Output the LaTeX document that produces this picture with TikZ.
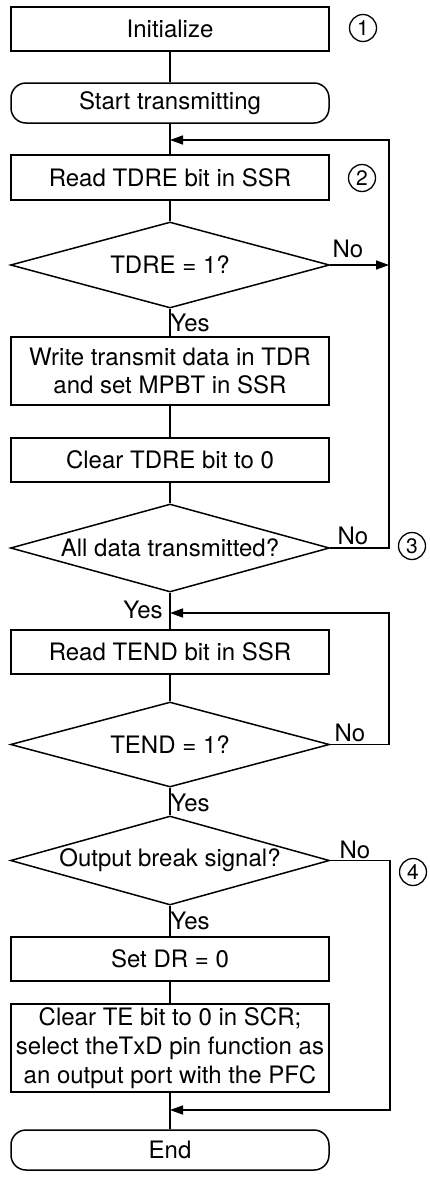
\documentclass[tikz,border=0pt]{standalone}
\usepackage{fontspec}
\setmainfont{TeX Gyre Heros}
\usetikzlibrary{shapes.geometric,arrows.meta}
\begin{document}
\begin{tikzpicture}[x=1pt,y=-1pt,
  every node/.style={font=\fontsize{24}{28.8}\selectfont, inner sep=0pt},
  proc/.style={draw, line width=1.5pt, minimum width=318pt, align=center},
  term/.style={proc, rounded corners=15pt},
  dec/.style={draw, diamond, line width=1.5pt, minimum width=319pt, aspect=3.6},
  circ/.style={draw, circle, line width=1.3pt, minimum size=27pt, font=\fontsize{21}{21}\selectfont},
  conn/.style={line width=1.5pt},
  arr/.style={conn, -{Triangle[length=13pt,width=9pt]}}
]
\fill[white] (0,0) rectangle (429,1178);
\useasboundingbox (0,0) rectangle (429,1178);

% main column
\node[proc, minimum height=44pt] (init) at (170,29) {Initialize};
\node[term, minimum height=40pt] (start) at (170,103) {Start transmitting};
\node[proc, minimum height=45pt] (read1) at (170,177.5) {Read TDRE bit in SSR};
\node[dec, minimum height=86pt] (d1) at (170,265) {\makebox[0pt]{TDRE = 1?}};
\node[proc, minimum height=68pt] (write) at (170,371) {Write transmit data in TDR\\and set MPBT in SSR};
\node[proc, minimum height=44pt] (clear1) at (170,460) {Clear TDRE bit to 0};
\node[dec, minimum height=88pt] (d2) at (170,548) {\makebox[0pt]{All data transmitted?}};
\node[proc, minimum height=44pt] (read2) at (170,652) {Read TEND bit in SSR};
\node[dec, minimum height=85pt] (d3) at (170,744.5) {\makebox[0pt]{TEND = 1?}};
\node[dec, minimum height=89pt] (d4) at (170,860.5) {\makebox[0pt]{Output break signal?}};
\node[proc, minimum height=44pt] (setdr) at (170,959) {Set DR = 0};
\node[proc, minimum height=88pt] (clearte) at (170,1048) {Clear TE bit to 0 in SCR;\\select theTxD pin function as\\an output port with the PFC};
\node[term, minimum height=40pt] (endn) at (170,1150) {End};

% step numbers
\node[circ] (c1) at (363,28) {1};
\node[circ] (c2) at (362,178) {2};
\node[circ] (c3) at (412,546) {3};
\node[circ] (c4) at (413,872) {4};

% junction coordinates
\coordinate (j1) at (170,140);
\coordinate (r1) at (389,140);
\coordinate (j2) at (170,613);
\coordinate (r2) at (389,613);
\coordinate (j3) at (170,1110);
\coordinate (r3) at (390,1110);

% vertical connectors
\draw[conn] (init) -- (start);
\draw[conn] (start) -- (read1);
\draw[conn] (read1) -- (d1);
\draw[conn] (d1) -- (write);
\draw[conn] (write) -- (clear1);
\draw[conn] (clear1) -- (d2);
\draw[conn] (d2) -- (read2);
\draw[conn] (read2) -- (d3);
\draw[conn] (d3) -- (d4);
\draw[conn] (d4) -- (setdr);
\draw[conn] (setdr) -- (clearte);
\draw[conn] (clearte) -- (endn);

% loops
\draw[arr] (d1.east) -- (d1.east -| r1);
\draw[arr] (d2.east) -| (r1) -- (j1);
\draw[arr] (d3.east) -| (r2) -- (j2);
\draw[arr] (d4.east) -| (r3) -- (j3);

% labels
\node (no1) at (348,249) {No};
\node (yes1) at (190,323) {Yes};
\node (no2) at (353,536) {No};
\node (yes2) at (143,610) {Yes};
\node (no3) at (350,733) {No};
\node (yes3) at (190,803) {Yes};
\node (no4) at (355,850) {No};
\node (yes4) at (190,921) {Yes};
\end{tikzpicture}
\end{document}
